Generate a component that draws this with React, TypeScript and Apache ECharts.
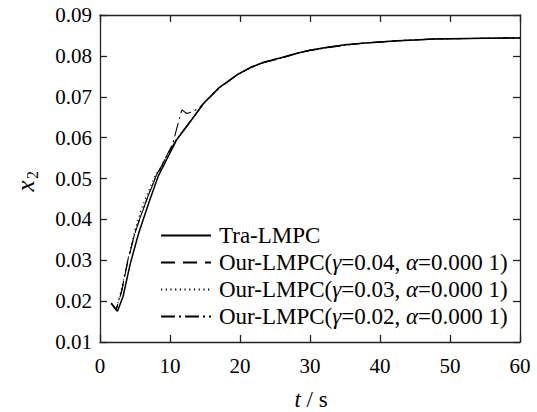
import React, { useEffect, useRef } from "react";
import * as echarts from "echarts";

const SERIF = "Liberation Serif";

const xTicks = [0, 10, 20, 30, 40, 50, 60];
const yTicks = [0.01, 0.02, 0.03, 0.04, 0.05, 0.06, 0.07, 0.08, 0.09];

const seriesNames = [
  "Tra-LMPC",
  "Our-LMPC(γ=0.04, α=0.000 1)",
  "Our-LMPC(γ=0.03, α=0.000 1)",
  "Our-LMPC(γ=0.02, α=0.000 1)",
];

const tTra = [1.6, 2.5, 3.3, 4.3, 5.5, 6.9, 8.3, 9.8, 11, 12.6, 14.8, 17, 19.5, 21.5, 23.5, 26, 28, 30, 32.5, 35, 37.5, 40, 42.5, 45, 47.5, 50, 55, 60];
const xTra = [0.0195, 0.0175, 0.0212, 0.029, 0.0365, 0.0437, 0.0505, 0.0556, 0.0596, 0.0632, 0.0684, 0.0722, 0.0753, 0.0772, 0.0785, 0.0796, 0.0806, 0.0814, 0.0821, 0.0827, 0.0831, 0.0834, 0.0837, 0.0839, 0.0841, 0.0842, 0.0843, 0.0844];

const tG04 = [1.6, 2.3, 3.1, 4.0, 5.1, 6.5, 8.0, 9.6, 11, 12.6, 14.8, 17, 19.5, 21.5, 23.5, 26, 28, 30, 32.5, 35, 37.5, 40, 42.5, 45, 47.5, 50, 55, 60];
const xG04 = [0.0195, 0.0178, 0.0224, 0.03, 0.0372, 0.044, 0.0505, 0.0557, 0.0598, 0.0633, 0.0683, 0.0721, 0.0752, 0.0771, 0.0784, 0.0795, 0.0805, 0.0813, 0.082, 0.0826, 0.0831, 0.0834, 0.0837, 0.0839, 0.0841, 0.0842, 0.0843, 0.0844];

const tG03 = [1.6, 2.3, 3.0, 4.0, 5.0, 6.0, 7.1, 8.0, 8.6, 9.8, 11, 12.6, 14.8, 17, 19.5, 21.5, 23.5, 26, 28, 30, 32.5, 35, 37.5, 40, 42.5, 45, 47.5, 50, 55, 60];
const xG03 = [0.0195, 0.018, 0.0225, 0.0303, 0.0375, 0.043, 0.0476, 0.0512, 0.0522, 0.056, 0.0598, 0.0634, 0.0683, 0.0721, 0.0752, 0.0771, 0.0784, 0.0795, 0.0805, 0.0813, 0.082, 0.0826, 0.0831, 0.0834, 0.0837, 0.0839, 0.0841, 0.0842, 0.0843, 0.0844];

const tG02 = [1.6, 2.3, 3.1, 4.0, 5.1, 6.5, 8.0, 9.6, 10.4, 11.0, 11.7, 12.4, 13.3, 14.2, 14.8, 17, 19.5, 21.5, 23.5, 26, 28, 30, 32.5, 35, 37.5, 40, 42.5, 45, 47.5, 50, 55, 60];
const xG02 = [0.0195, 0.0179, 0.0226, 0.0302, 0.0374, 0.0441, 0.0506, 0.0558, 0.0585, 0.0625, 0.0668, 0.0659, 0.0664, 0.0673, 0.0684, 0.0722, 0.0753, 0.0772, 0.0785, 0.0796, 0.0806, 0.0814, 0.0821, 0.0827, 0.0831, 0.0834, 0.0837, 0.0839, 0.0841, 0.0842, 0.0843, 0.0844];

const zip = (t: number[], v: number[]) => t.map((x, i) => [x, v[i]]);

function richName(name: string): string {
  if (name === "Tra-LMPC") return "{n|Tra-LMPC}";
  const m = name.match(/^Our-LMPC\(γ=([\d.]+), α=([\d. ]+)\)$/);
  if (!m) return "{n|" + name + "}";
  return "{n|Our-LMPC(}{i|γ}{n|=" + m[1] + ", }{i|α}{n|=" + m[2] + ")}";
}

export default function App() {
  const ref = useRef<HTMLDivElement>(null);
  useEffect(() => {
    if (!ref.current) return;
    const chart = echarts.init(ref.current, undefined, { renderer: "svg" });
    const axisColor = "#222";
    const grid = { left: 100, right: 17, top: 15, bottom: 70 };
    const lineCommon = {
      type: "line" as const,
      symbol: "none",
      showSymbol: false,
      smooth: false,
      xAxisIndex: 0,
      yAxisIndex: 0,
    };
    const dataSets = [zip(tTra, xTra), zip(tG04, xG04), zip(tG03, xG03), zip(tG02, xG02)];
    const styles = [
      { width: 1.5, type: "solid" as any },
      { width: 1.1, type: [14, 8] as any },
      { width: 1.1, type: [1.2, 3.5] as any },
      { width: 1.1, type: [14, 4, 2, 4] as any },
    ];
    const tickStyle = { color: axisColor, width: 1.3 };
    chart.setOption({
      animation: false,
      backgroundColor: "#fff",
      grid,
      legend: {
        orient: "vertical",
        left: 155,
        top: 219,
        itemWidth: 50,
        itemHeight: 14,
        itemGap: 4,
        data: seriesNames,
        selectedMode: false,
        itemStyle: { opacity: 0 },
        formatter: (name: string) => richName(name),
        textStyle: {
          color: "#000",
          fontFamily: SERIF,
          fontSize: 23,
          padding: [0, 0, 0, 3],
          rich: {
            n: { fontFamily: SERIF, fontSize: 23, color: "#000", lineHeight: 24 },
            i: { fontFamily: SERIF, fontSize: 23, fontStyle: "italic", color: "#000", lineHeight: 24 },
          },
        },
      },
      xAxis: [
        {
          type: "value",
          min: xTicks[0],
          max: xTicks[xTicks.length - 1],
          interval: 10,
          position: "bottom",
          axisLine: { show: true, onZero: false, lineStyle: tickStyle },
          axisTick: { show: true, inside: true, length: 7, lineStyle: tickStyle },
          axisLabel: { color: "#000", fontFamily: SERIF, fontSize: 21, margin: 13 },
          splitLine: { show: false },
        },
        {
          type: "value",
          min: xTicks[0],
          max: xTicks[xTicks.length - 1],
          interval: 10,
          position: "top",
          axisLine: { show: true, onZero: false, lineStyle: tickStyle },
          axisTick: { show: true, inside: true, length: 7, lineStyle: tickStyle },
          axisLabel: { show: false },
          splitLine: { show: false },
        },
      ],
      yAxis: [
        {
          type: "value",
          min: yTicks[0],
          max: yTicks[yTicks.length - 1],
          interval: 0.01,
          position: "left",
          axisLine: { show: true, onZero: false, lineStyle: tickStyle },
          axisTick: { show: true, inside: true, length: 7, lineStyle: tickStyle },
          axisLabel: {
            color: "#000",
            fontFamily: SERIF,
            fontSize: 21,
            margin: 8,
            formatter: (v: number) => v.toFixed(2),
          },
          splitLine: { show: false },
        },
        {
          type: "value",
          min: yTicks[0],
          max: yTicks[yTicks.length - 1],
          interval: 0.01,
          position: "right",
          axisLine: { show: true, onZero: false, lineStyle: tickStyle },
          axisTick: { show: true, inside: true, length: 7, lineStyle: tickStyle },
          axisLabel: { show: false },
          splitLine: { show: false },
        },
      ],
      graphic: [
        {
          type: "text",
          x: 311,
          y: 399,
          style: {
            text: "{i|t}{n| / s}",
            align: "center",
            verticalAlign: "middle",
            rich: {
              i: { fontFamily: SERIF, fontSize: 23, fontStyle: "italic", fill: "#000" },
              n: { fontFamily: SERIF, fontSize: 23, fill: "#000" },
            },
          },
        },
        {
          type: "text",
          x: 25,
          y: 186,
          rotation: Math.PI / 2,
          style: {
            text: "x",
            fontFamily: SERIF,
            fontSize: 25,
            fontStyle: "italic",
            fill: "#000",
            align: "center",
            verticalAlign: "middle",
          },
        },
        {
          type: "text",
          x: 32,
          y: 175,
          rotation: Math.PI / 2,
          style: {
            text: "2",
            fontFamily: SERIF,
            fontSize: 16,
            fill: "#000",
            align: "center",
            verticalAlign: "middle",
          },
        },
      ],
      series: seriesNames.map((name, i) => ({
        ...lineCommon,
        name,
        data: dataSets[i],
        lineStyle: { color: "#000", ...styles[i] },
        itemStyle: { color: "#000" },
        z: 10 - i,
      })),
    });
    return () => chart.dispose();
  }, []);
  return (
    <div
      ref={ref}
      style={{ position: "absolute", left: 0, top: 0, width: 537, height: 412, background: "#fff" }}
    />
  );
}
